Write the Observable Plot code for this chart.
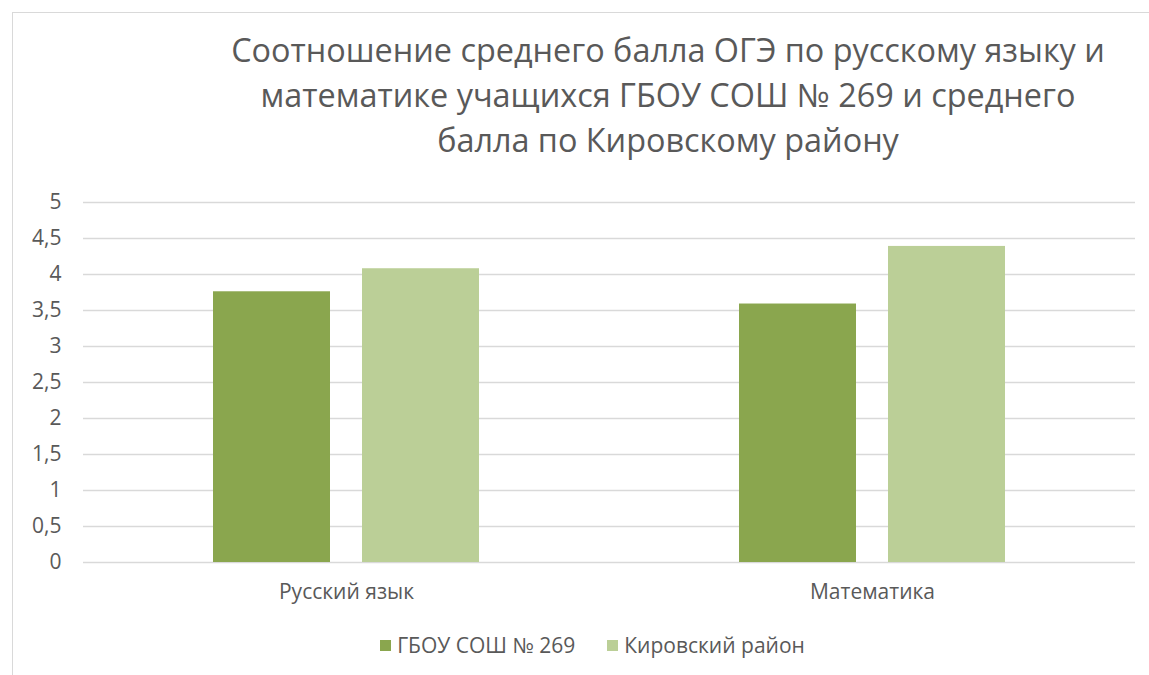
<!DOCTYPE html>
<html>
<head>
<meta charset="utf-8">
<script src="https://cdn.jsdelivr.net/npm/d3@7"></script>
<script src="https://cdn.jsdelivr.net/npm/@observablehq/plot@0.6"></script>
<style>
  html, body { margin: 0; padding: 0; background: #fff; }
  #wrap { position: relative; width: 1149px; height: 675px; overflow: hidden; background: #fff; font-family: "Open Sans", sans-serif; color: #595959; }
  #border { position: absolute; left: 12px; top: 12px; width: 1200px; height: 700px; border-left: 1.5px solid #d9d9d9; border-top: 1.5px solid #d9d9d9; }
  #title { position: absolute; left: 186px; width: 964px; top: 27px; text-align: center; font-size: 32.4px; line-height: 45px; color: #595959; }
  #chart { position: absolute; left: 0; top: 180px; }
  #legend { position: absolute; top: 631px; left: 0; width: 1149px; display: flex; justify-content: center; padding-left: 36px; box-sizing: border-box; font-size: 21px; }
  .item { display: flex; align-items: center; margin: 0 16px; }
  .sw { width: 11px; height: 11px; margin-right: 6px; }
</style>
</head>
<body>
<div id="wrap">
  <div id="border"></div>
  <div id="title">Соотношение среднего балла ОГЭ по русскому языку и<br>математике учащихся ГБОУ СОШ № 269 и среднего<br>балла по Кировскому району</div>
  <div id="chart"></div>
  <div id="legend"></div>
</div>
<script>
const subjects = ["Русский язык", "Математика"];
const seriesNames = ["ГБОУ СОШ № 269", "Кировский район"];
const schoolValues = [3.76, 3.59];
const districtValues = [4.08, 4.39];
const seriesColors = ["#8aa64e", "#bbcf97"];
const yTicks = [0, 0.5, 1, 1.5, 2, 2.5, 3, 3.5, 4, 4.5, 5];

const data = [];
subjects.forEach((s, i) => {
  data.push({subject: s, series: seriesNames[0], value: schoolValues[i]});
  data.push({subject: s, series: seriesNames[1], value: districtValues[i]});
});

const chart = Plot.plot({
  width: 1149,
  height: 440,
  marginTop: 22,
  marginBottom: 58,
  marginLeft: 82,
  marginRight: 14,
  style: {fontFamily: "Open Sans, sans-serif", fontSize: "21px", color: "#595959", background: "transparent"},
  fx: {domain: subjects, padding: 0, label: null, tickSize: 0, tickPadding: 22, axis: "bottom"},
  x: {domain: seriesNames, axis: null, paddingInner: 0.213, paddingOuter: 0.86},
  y: {domain: [0, 5], ticks: yTicks, label: null},
  color: {domain: seriesNames, range: seriesColors},
  marks: [
    Plot.gridY(yTicks, {stroke: "#d9d9d9", strokeOpacity: 1, strokeWidth: 1.5}),
    Plot.axisY(yTicks, {tickSize: 0, tickPadding: 22, tickFormat: d => String(d).replace(".", ","), fontSize: 21, label: null}),
    Plot.barY(data, {fx: "subject", x: "series", y: "value", fill: "series"})
  ]
});
document.getElementById("chart").appendChild(chart);

const legend = document.getElementById("legend");
seriesNames.forEach((n, i) => {
  const it = document.createElement("div");
  it.className = "item";
  it.innerHTML = `<div class="sw" style="background:${seriesColors[i]}"></div><span>${n}</span>`;
  legend.appendChild(it);
});
</script>
</body>
</html>
